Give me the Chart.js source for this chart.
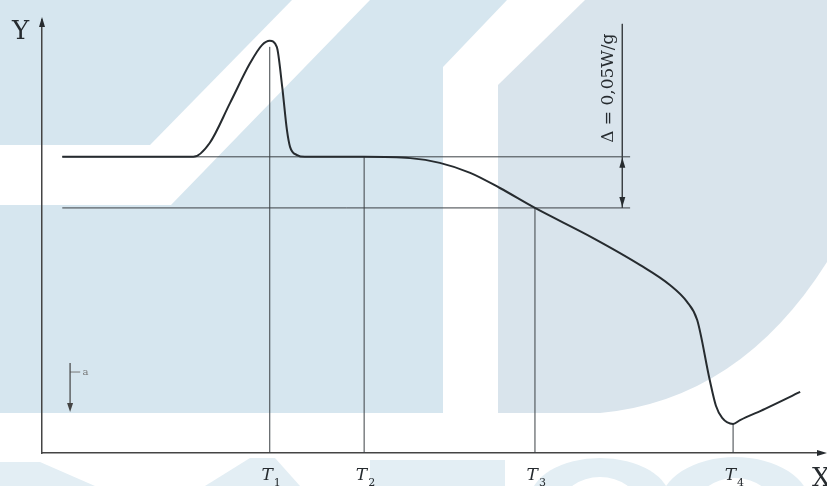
<!DOCTYPE html>
<html>
<head>
<meta charset="utf-8">
<script src="https://cdn.jsdelivr.net/npm/chart.js@4"></script>
<style>
  html, body { margin: 0; padding: 0; background: #fff; }
  canvas { display: block; }
</style>
</head>
<body>
<canvas id="c" width="827" height="486"></canvas>
<script>
// measured curve (x, y in arbitrary units 0..100)
const curveX = [2.6, 19.4, 21.5, 24.1, 26.7, 28.2, 29.2, 30.1, 30.8, 31.4, 31.8, 32.7, 33.7, 41.3, 47.2, 51.0, 54.9, 58.7, 63.2, 70.6, 76.7, 80.5, 82.7, 84.0, 85.6, 86.4, 87.2, 88.6, 89.5, 92.7, 97.2];
const curveY = [68.4, 68.4, 71.6, 80.8, 90.1, 94.2, 95.2, 93.8, 84.5, 74.6, 70.7, 68.8, 68.4, 68.4, 68.1, 67.0, 64.7, 61.2, 56.6, 49.7, 43.4, 38.8, 34.9, 30.7, 16.9, 10.9, 8.1, 6.7, 7.6, 10.2, 14.1];

// characteristic temperatures and where their lines stop
const tNames = ["1", "2", "3", "4"];
const tValues = [29.2, 41.3, 63.2, 88.6];
const tTops = [93.8, 68.4, 56.6, 6.7];

// baseline level and level shifted by delta
const levels = [68.4, 56.6];
const levelStart = 2.6;
const levelEnd = 75.4;
const dimX = 74.4;
const dimTop = 99.1;
const deltaText = "\u0394 = 0,05W/g";

// small "a" marker
const markX = 3.6;
const markTop = 20.8;
const markTick = 18.7;
const markBot = 10.4;

const ink = "#262b2f";
const thin = "#3b4045";

function pts(xs, ys) {
  return xs.map((v, i) => ({ x: v, y: ys[i] }));
}

var datasets = [];
datasets.push({
  data: pts(curveX, curveY),
  borderColor: ink,
  borderWidth: 2,
  pointRadius: 0,
  cubicInterpolationMode: "monotone"
});
levels.forEach(l => {
  datasets.push({ data: [{ x: levelStart, y: l }, { x: levelEnd, y: l }], borderColor: thin, borderWidth: 1, pointRadius: 0 });
});
tValues.forEach((t, i) => {
  datasets.push({ data: [{ x: t, y: 0 }, { x: t, y: tTops[i] }], borderColor: thin, borderWidth: 1, pointRadius: 0 });
});
datasets.push({ data: [{ x: dimX, y: dimTop }, { x: dimX, y: levels[1] }], borderColor: thin, borderWidth: 1, pointRadius: 0 });
datasets.push({ data: [{ x: markX, y: markTop }, { x: markX, y: markBot }], borderColor: "#444", borderWidth: 1.2, pointRadius: 0 });
datasets.push({ data: [{ x: markX, y: markTick }, { x: markX + 1.3, y: markTick }], borderColor: "#777", borderWidth: 1, pointRadius: 0 });

function tri(ctx, x, y, dir, len, half) {
  ctx.beginPath();
  if (dir == "up") { ctx.moveTo(x, y); ctx.lineTo(x - half, y + len); ctx.lineTo(x + half, y + len); }
  if (dir == "down") { ctx.moveTo(x, y); ctx.lineTo(x - half, y - len); ctx.lineTo(x + half, y - len); }
  if (dir == "right") { ctx.moveTo(x, y); ctx.lineTo(x - len, y - half); ctx.lineTo(x - len, y + half); }
  ctx.closePath();
  ctx.fill();
}

function poly(ctx, color, p) {
  ctx.fillStyle = color;
  ctx.beginPath();
  ctx.moveTo(p[0][0], p[0][1]);
  for (var i = 1; i < p.length; i++) ctx.lineTo(p[i][0], p[i][1]);
  ctx.closePath();
  ctx.fill();
}

const decor = {
  id: "decor",
  beforeDraw(chart) {
    const ctx = chart.ctx;
    ctx.save();
    ctx.fillStyle = "#fff";
    ctx.fillRect(0, 0, chart.width, chart.height);
    // faint watermark shapes behind the drawing
    const blue = "#d6e6ef";
    poly(ctx, blue, [[0, 0], [292, 0], [150, 145], [0, 145]]);
    poly(ctx, blue, [[0, 205], [171, 205], [370, 0], [507, 0], [443, 67], [443, 413], [0, 413]]);
    ctx.fillStyle = "#d9e4ec";
    ctx.beginPath();
    ctx.moveTo(585, 0);
    ctx.lineTo(827, 0);
    ctx.lineTo(827, 262);
    ctx.quadraticCurveTo(740, 400, 600, 413);
    ctx.lineTo(498, 413);
    ctx.lineTo(498, 85);
    ctx.closePath();
    ctx.fill();
    // letters peeking in below the axis
    const pale = "#e3eef4";
    poly(ctx, pale, [[0, 462], [40, 462], [95, 486], [0, 486]]);
    poly(ctx, pale, [[205, 486], [250, 458], [275, 458], [300, 486]]);
    poly(ctx, pale, [[370, 460], [505, 460], [505, 486], [370, 486]]);
    ctx.fillStyle = pale;
    ctx.beginPath();
    ctx.ellipse(600, 500, 70, 42, 0, Math.PI, 2 * Math.PI);
    ctx.fill();
    ctx.beginPath();
    ctx.ellipse(735, 505, 75, 48, 0, Math.PI, 2 * Math.PI);
    ctx.fill();
    ctx.fillStyle = "#fff";
    ctx.beginPath();
    ctx.ellipse(600, 505, 38, 28, 0, Math.PI, 2 * Math.PI);
    ctx.fill();
    ctx.beginPath();
    ctx.ellipse(735, 510, 40, 32, 0, Math.PI, 2 * Math.PI);
    ctx.fill();
    ctx.restore();
  },
  afterDraw(chart) {
    const ctx = chart.ctx;
    const x = chart.scales.x, y = chart.scales.y;
    const a = chart.chartArea;
    ctx.save();
    ctx.fillStyle = ink;
    // axis arrows
    tri(ctx, a.left, a.top - 3, "up", 10, 3);
    tri(ctx, a.right + 5, a.bottom, "right", 10, 3);
    // axis names
    ctx.font = "26px 'DejaVu Serif'";
    ctx.textBaseline = "alphabetic";
    ctx.textAlign = "left";
    ctx.fillText("Y", 12, 39);
    ctx.fillText("X", 812, 486);
    // T labels
    tValues.forEach((t, i) => {
      const px = x.getPixelForValue(t);
      ctx.font = "italic 17px 'DejaVu Serif'";
      ctx.textAlign = "right";
      ctx.fillText("T", px + 3, 480);
      ctx.font = "11px 'DejaVu Serif'";
      ctx.textAlign = "left";
      ctx.fillText(tNames[i], px + 4, 486);
    });
    // delta dimension
    const dx = x.getPixelForValue(dimX);
    tri(ctx, dx, y.getPixelForValue(levels[0]) + 1, "up", 10, 3);
    tri(ctx, dx, y.getPixelForValue(levels[1]) - 1, "down", 10, 3);
    ctx.save();
    ctx.translate(dx - 9, y.getPixelForValue(levels[0]) - 14);
    ctx.rotate(-Math.PI / 2);
    ctx.font = "17px 'DejaVu Serif'";
    ctx.textAlign = "left";
    ctx.fillText(deltaText, 0, 0);
    ctx.restore();
    // "a" marker
    ctx.fillStyle = "#444";
    tri(ctx, x.getPixelForValue(markX), y.getPixelForValue(markBot) + 4, "down", 9, 3);
    ctx.fillStyle = "#777";
    ctx.font = "10px 'DejaVu Serif'";
    ctx.fillText("a", x.getPixelForValue(markX + 1.6), y.getPixelForValue(markTick) + 3);
    ctx.restore();
  }
};

new Chart(document.getElementById("c"), {
  type: "line",
  data: { datasets: datasets },
  options: {
    responsive: false,
    animation: false,
    devicePixelRatio: 1,
    layout: { padding: { top: 20, right: 5, left: 0, bottom: 0 } },
    plugins: { legend: { display: false }, tooltip: { enabled: false } },
    scales: {
      x: {
        type: "linear", min: 0, max: 100,
        grid: { display: false, drawTicks: false },
        border: { display: true, color: "#444", width: 1.5 },
        ticks: { display: false },
        afterFit: s => { s.height = 33; }
      },
      y: {
        type: "linear", min: 0, max: 100,
        grid: { display: false, drawTicks: false },
        border: { display: true, color: "#444", width: 1.5 },
        ticks: { display: false },
        afterFit: s => { s.width = 42; }
      }
    }
  },
  plugins: [decor]
});
</script>
</body>
</html>
